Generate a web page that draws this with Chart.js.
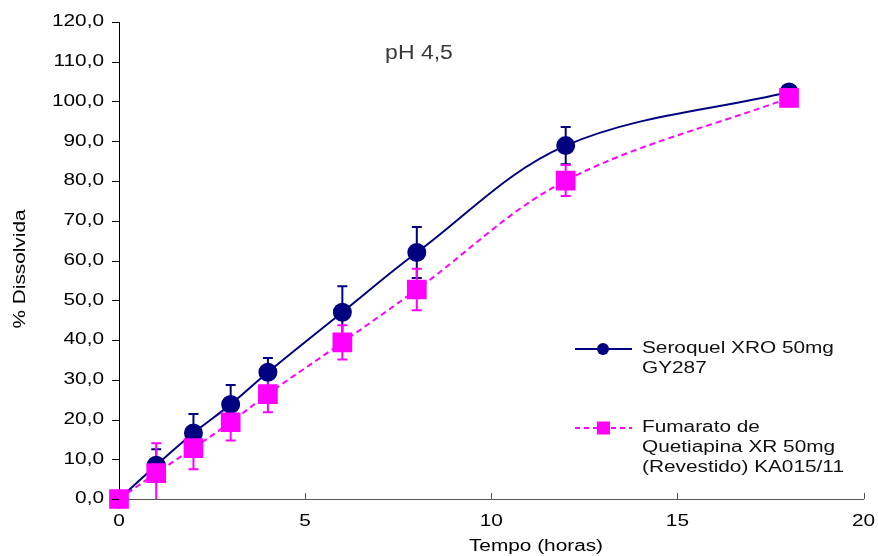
<!DOCTYPE html>
<html>
<head>
<meta charset="utf-8">
<script src="https://cdn.jsdelivr.net/npm/chart.js@4/dist/chart.umd.min.js"></script>
<style>
  html, body { margin: 0; padding: 0; background: #fff; }
  #wrap { width: 878px; height: 556px; }
</style>
</head>
<body>
<div id="wrap"><canvas id="dissChart" width="878" height="556"></canvas></div>
<script>
const tempo = [0, 1, 2, 3, 4, 6, 8, 12, 18];

const seroquel = [0, 8.5, 16.6, 23.8, 31.9, 47.0, 62.0, 88.9, 102.4];
const seroquelErr = [0, 4.0, 4.8, 4.9, 3.6, 6.5, 6.4, 4.7, 0];

const fumarato = [0, 6.5, 12.8, 19.3, 26.4, 39.4, 52.7, 80.1, 100.9];
const fumaratoErr = [0, 7.5, 5.3, 4.6, 4.6, 4.3, 5.2, 3.9, 0];

const xTicks = [0, 5, 10, 15, 20];
const yTicks = [0, 10, 20, 30, 40, 50, 60, 70, 80, 90, 100, 110, 120];

const legendLabels = [
    ['Seroquel XRO 50mg', 'GY287'],
    ['Fumarato de', 'Quetiapina XR 50mg', '(Revestido) KA015/11']
];

const navy = '#000080';
const magenta = '#ff00ff';
const font = 'Liberation Sans, Arial, sans-serif';
const stretch = 1.3;   // wide-set lettering

const toPoints = (ys) => tempo.map((x, i) => ({ x: x, y: ys[i] }));

// text drawn a little wider than the font's natural width
function wideText(ctx, text, x, y, align, rot) {
    ctx.save();
    ctx.translate(x, y);
    if (rot) ctx.rotate(rot);
    ctx.scale(stretch, 1);
    ctx.textAlign = align;
    ctx.textBaseline = 'middle';
    ctx.fillText(text, 0, 0);
    ctx.restore();
}

// vertical error bars with caps, drawn under the markers
const errorBars = {
    id: 'errorBars',
    beforeDatasetsDraw(chart) {
        const ctx = chart.ctx;
        const xs = chart.scales.x, ys = chart.scales.y;
        const sets = [[seroquel, seroquelErr, navy], [fumarato, fumaratoErr, magenta]];
        ctx.save();
        ctx.lineWidth = 2;
        sets.forEach(([vals, errs, color]) => {
            ctx.strokeStyle = color;
            tempo.forEach((t, i) => {
                if (!errs[i]) return;
                const px = xs.getPixelForValue(t);
                const top = ys.getPixelForValue(vals[i] + errs[i]);
                const bot = ys.getPixelForValue(Math.max(0, vals[i] - errs[i]));
                ctx.beginPath();
                ctx.moveTo(px, top); ctx.lineTo(px, bot);
                ctx.moveTo(px - 5, top); ctx.lineTo(px + 5, top);
                if (vals[i] - errs[i] > 0) {
                    ctx.moveTo(px - 5, bot); ctx.lineTo(px + 5, bot);
                }
                ctx.stroke();
            });
        });
        ctx.restore();
    }
};

// axis ticks and labels, titles and the legend box
const extras = {
    id: 'extras',
    afterDraw(chart) {
        const ctx = chart.ctx;
        const xs = chart.scales.x, ys = chart.scales.y;
        const area = chart.chartArea;
        ctx.save();
        ctx.lineWidth = 1;

        ctx.strokeStyle = '#555';
        xTicks.forEach(v => {
            if (v === 0) return;
            const px = Math.round(xs.getPixelForValue(v)) + 0.5;
            ctx.beginPath();
            ctx.moveTo(px, area.bottom);
            ctx.lineTo(px, area.bottom - 6);
            ctx.stroke();
        });
        ctx.strokeStyle = '#000';
        yTicks.forEach(v => {
            const py = Math.round(ys.getPixelForValue(v)) + 0.5;
            ctx.beginPath();
            ctx.moveTo(area.left - 7, py);
            ctx.lineTo(area.left, py);
            ctx.stroke();
        });

        ctx.fillStyle = '#000';
        ctx.font = '16px ' + font;
        xTicks.forEach(v => {
            wideText(ctx, String(v), xs.getPixelForValue(v), 522, 'center');
        });
        yTicks.forEach(v => {
            wideText(ctx, v.toFixed(1).replace('.', ','), 104, ys.getPixelForValue(v), 'right');
        });
        wideText(ctx, 'Tempo (horas)', 536, 547, 'center');
        wideText(ctx, '% Dissolvida', 21, 269, 'center', -Math.PI / 2);

        ctx.fillStyle = '#3a3a3a';
        ctx.font = '20px ' + font;
        ctx.save();
        ctx.translate(419, 53);
        ctx.scale(1.15, 1);
        ctx.textAlign = 'center';
        ctx.textBaseline = 'middle';
        ctx.fillText('pH 4,5', 0, 0);
        ctx.restore();

        // legend
        ctx.font = '16px ' + font;
        const rows = [349, 428];
        rows.forEach((y, k) => {
            ctx.lineWidth = 2;
            if (k === 0) {
                ctx.strokeStyle = navy;
                ctx.setLineDash([]);
            } else {
                ctx.strokeStyle = magenta;
                ctx.setLineDash([5, 4]);
            }
            ctx.beginPath();
            ctx.moveTo(575, y); ctx.lineTo(632, y);
            ctx.stroke();
            ctx.setLineDash([]);
            if (k === 0) {
                ctx.fillStyle = navy;
                ctx.beginPath();
                ctx.arc(603, y, 6, 0, Math.PI * 2);
                ctx.fill();
            } else {
                ctx.fillStyle = magenta;
                ctx.fillRect(597, y - 6.5, 13, 13);
            }
            ctx.fillStyle = '#111';
            legendLabels[k].forEach((line, j) => {
                wideText(ctx, line, 642, y + j * 20, 'left');
            });
        });
        ctx.restore();
    }
};

const ctx = document.getElementById('dissChart').getContext('2d');
new Chart(ctx, {
    type: 'line',
    data: {
        datasets: [{
            label: 'Fumarato de Quetiapina XR 50mg (Revestido) KA015/11',
            data: toPoints(fumarato),
            borderColor: magenta,
            backgroundColor: magenta,
            borderWidth: 2,
            borderDash: [6, 4],
            pointStyle: 'rect',
            pointRadius: 12.5,
            pointHoverRadius: 12.5,
            tension: 0.35,
            clip: false,
            order: 0
        }, {
            label: 'Seroquel XRO 50mg GY287',
            data: toPoints(seroquel),
            borderColor: navy,
            backgroundColor: navy,
            borderWidth: 2,
            pointStyle: 'circle',
            pointRadius: 8.5,
            pointHoverRadius: 8.5,
            tension: 0.35,
            clip: false,
            order: 1
        }]
    },
    options: {
        responsive: false,
        animation: false,
        layout: { padding: { top: 22, right: 14, left: 0, bottom: 0 } },
        plugins: {
            legend: { display: false },
            tooltip: { enabled: false }
        },
        scales: {
            x: {
                type: 'linear',
                min: 0,
                max: 20,
                grid: { display: false },
                border: { display: true, color: '#555', width: 1 },
                ticks: { display: false, stepSize: 5 },
                afterFit(scale) { scale.height = 57; }
            },
            y: {
                min: 0,
                max: 120,
                grid: { display: false },
                border: { display: true, color: '#000', width: 1 },
                ticks: { display: false, stepSize: 10 },
                afterFit(scale) { scale.width = 119; }
            }
        }
    },
    plugins: [errorBars, extras]
});
</script>
</body>
</html>
